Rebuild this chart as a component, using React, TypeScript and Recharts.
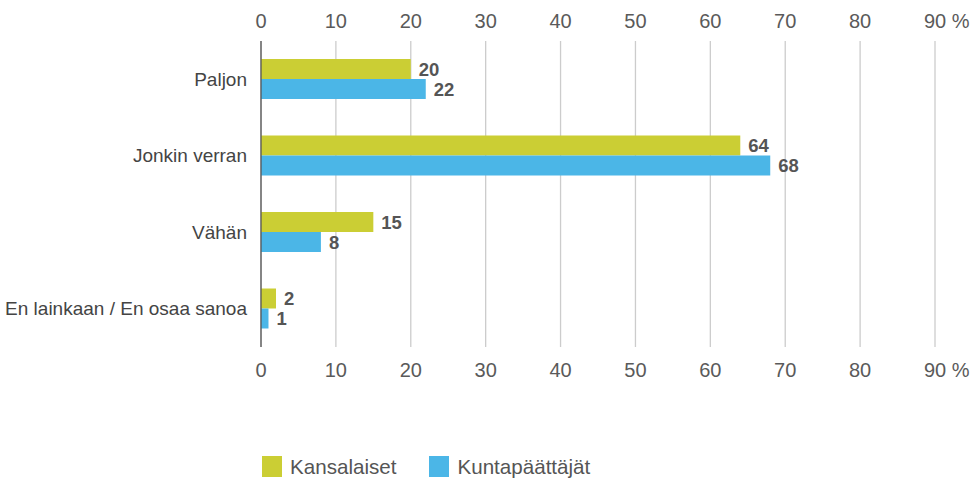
import React from 'react';
import { BarChart, Bar, XAxis, YAxis, CartesianGrid, Legend, LabelList } from 'recharts';

const categories = ['Paljon', 'Jonkin verran', 'Vähän', 'En lainkaan / En osaa sanoa'];
const kansalaiset = [20, 64, 15, 2];
const kuntapaattajat = [22, 68, 8, 1];
const xTicks = [0, 10, 20, 30, 40, 50, 60, 70, 80, 90];
const seriesNames = ['Kansalaiset', 'Kuntapäättäjät'];
const colors = ['#CBCE34', '#4BB6E7'];

const data = categories.map((name, i) => ({
  name,
  k: kansalaiset[i],
  p: kuntapaattajat[i],
}));

const FONT = '"Liberation Sans", Arial, Helvetica, sans-serif';

const XTick = (props: any) => {
  const { x, y, payload, pos } = props;
  const isLast = payload.value === 90;
  const top = pos === 'top';
  const text = isLast ? '90 %' : String(payload.value);
  return (
    <text
      x={isLast ? x - 11 : x}
      y={y}
      dy={top ? 0 : '0.72em'}
      textAnchor={isLast ? 'start' : 'middle'}
      fontSize={20}
      fill="#5a5a5a"
      fontFamily={FONT}
    >
      {text}
    </text>
  );
};

const LegendContent = () => (
  <div style={{ height: 97, boxSizing: 'border-box', paddingTop: 70, paddingLeft: 262, display: 'flex', alignItems: 'center', fontFamily: FONT }}>
    {seriesNames.map((n, i) => (
      <div key={n} style={{ display: 'flex', alignItems: 'center', marginRight: 33 }}>
        <div style={{ width: 20, height: 21, background: colors[i], marginRight: 8 }} />
        <span style={{ fontSize: 20.6, color: '#555', lineHeight: '21px' }}>{n}</span>
      </div>
    ))}
  </div>
);

const labelStyle = { fontSize: 18.5, fontWeight: 'bold', fill: '#555', fontFamily: FONT };

export default function App() {
  return (
    <div style={{ position: 'absolute', left: 0, top: 0, background: '#fff' }}>
      <BarChart
        width={976}
        height={480}
        data={data}
        layout="vertical"
        margin={{ top: 0, right: 41, bottom: 0, left: 0 }}
        barSize={20}
        barGap={0}
      >
        <CartesianGrid xAxisId="top" horizontal={false} vertical stroke="#cccccc" strokeWidth={1.3} />
        <XAxis
          xAxisId="top"
          orientation="top"
          type="number"
          domain={[0, 90]}
          ticks={xTicks}
          height={41}
          axisLine={false}
          tickLine={false}
          tickSize={0}
          tickMargin={13}
          tick={<XTick pos="top" />}
          interval={0}
        />
        <XAxis
          xAxisId="bottom"
          orientation="bottom"
          type="number"
          domain={[0, 90]}
          ticks={xTicks}
          height={36}
          axisLine={false}
          tickLine={false}
          tickSize={0}
          tickMargin={16}
          tick={<XTick pos="bottom" />}
          interval={0}
        />
        <YAxis
          type="category"
          dataKey="name"
          width={261}
          tickLine={false}
          tickSize={0}
          tickMargin={14}
          axisLine={{ stroke: '#555', strokeWidth: 1.3 }}
          tick={{ fontSize: 19, fill: '#444', fontFamily: FONT }}
        />
        <Legend verticalAlign="bottom" content={<LegendContent />} />
        <Bar xAxisId="top" dataKey="k" name={seriesNames[0]} fill={colors[0]} isAnimationActive={false}>
          <LabelList dataKey="k" position="right" offset={8} style={labelStyle} />
        </Bar>
        <Bar xAxisId="bottom" dataKey="p" name={seriesNames[1]} fill={colors[1]} isAnimationActive={false}>
          <LabelList dataKey="p" position="right" offset={8} style={labelStyle} />
        </Bar>
      </BarChart>
    </div>
  );
}
